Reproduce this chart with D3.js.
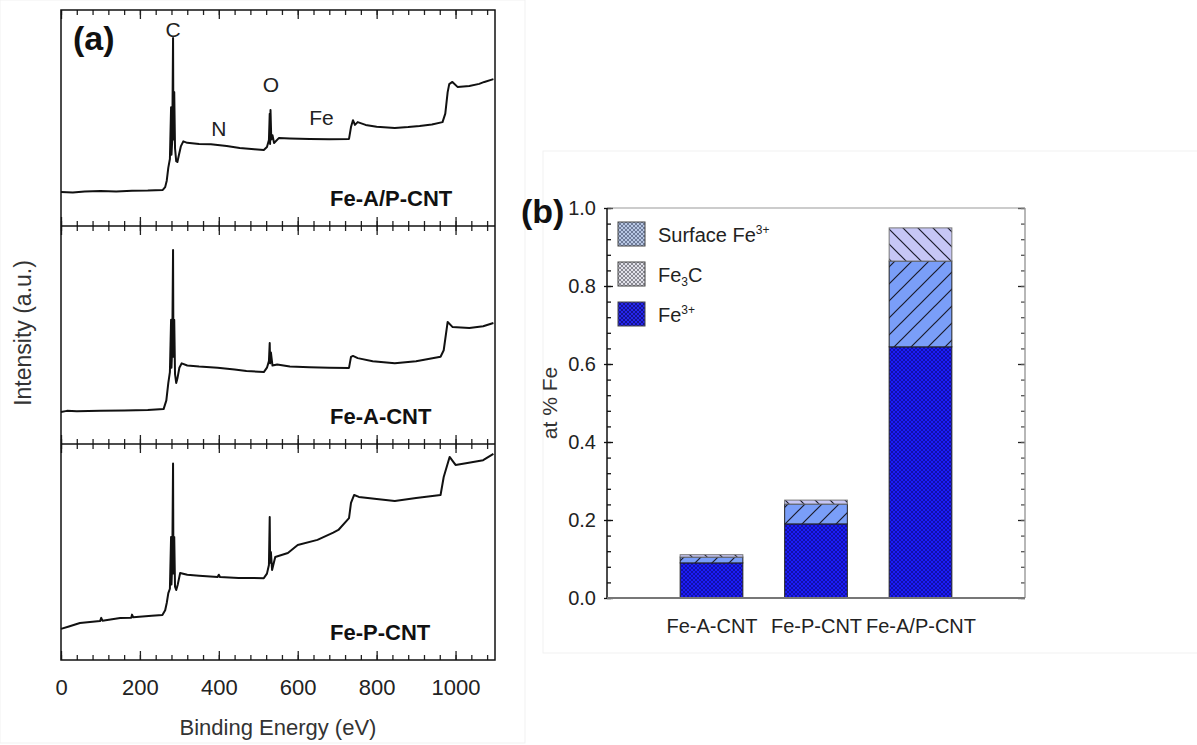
<!DOCTYPE html>
<html>
<head>
<meta charset="utf-8">
<script src="https://cdn.jsdelivr.net/npm/d3@7"></script>
<style>
  body { margin: 0; background: #fff; }
  svg { display: block; font-family: "Liberation Sans", Arial, sans-serif; }
</style>
</head>
<body>
<div id="chart"></div>
<script>
// (a) XPS survey spectra: [binding energy eV, intensity a.u. (0-100 of panel)]
const specAP = [[0,15.7],[30,15.5],[60,16],[100,16.2],[140,16],[180,16.3],[220,16.4],[258,16.7],[264,18],[268,21],[272,27],[276,31],[279,55],[280,33],[282,40],[284,87],[285,40],[287,62],[289,36],[292,30],[295,29.6],[299,33],[304,37],[310,39.2],[320,38.5],[350,38],[380,37.8],[397,37.5],[420,37],[453,36.1],[490,35.5],[514,35.2],[522,36.6],[527,39.8],[529,52],[530,38],[531,53.7],[533,40],[536,42],[540,38.4],[552,40.7],[580,40.5],[630,40.3],[680,40.2],[730,40.3],[735,45.8],[740,49],[745,46.8],[752,48.1],[772,46.8],[800,46],[846,45.4],[880,45.8],[909,46.3],[940,47],[967,48.1],[974,52],[980,62],[984,65.7],[992,66.7],[1005,64.4],[1035,64.8],[1060,65.8],[1073,66.7],[1096,68]];
const specA = [[0,14.7],[15,15.2],[40,15],[100,15.2],[160,15.4],[220,15.6],[260,16],[267,20],[272,28],[276,33],[279,57],[280,35],[282,45],[284,89],[285,40],[287,57],[289,32],[292,28],[295,30],[300,35],[306,37],[320,36],[350,35.5],[397,35],[440,34.2],[470,33.5],[514,33],[522,35],[527,38],[529,46.3],[530,37],[532,42],[536,36],[548,36.5],[580,35.5],[630,35.2],[680,35],[730,34.9],[735,40],[740,40.4],[752,39.4],[790,38],[846,37],[900,38],[962,40],[970,43],[980,56],[992,53.7],[1035,53.2],[1070,54],[1096,55.5]];
const specP = [[0,14.4],[20,15.5],[48,17.1],[99,18],[102,19.5],[105,18.2],[150,19.4],[178,19.6],[180,21],[183,19.8],[230,20.5],[257,20.8],[264,23],[268,26.4],[272,31],[276,33],[279,57],[280,35],[282,45],[284,91],[285,40],[287,57],[289,34],[292,32.4],[296,35],[302,40.3],[320,39.5],[350,39],[397,38.4],[400,39.5],[403,38.4],[450,38],[514,37.9],[522,40],[527,44],[529,66.2],[530,45],[532,50],[535,41.7],[543,47.7],[575,49.5],[600,53.2],[650,55.6],[690,59],[703,60.2],[730,65.7],[735,72.7],[743,76.4],[755,75.5],[800,74.5],[846,73.6],[900,75],[962,76.4],[970,84.7],[985,94],[1000,90.3],[1030,91.2],[1070,92.5],[1096,95.4]];
const spectra = [specAP, specA, specP];
const sampleNames = ['Fe-A/P-CNT', 'Fe-A-CNT', 'Fe-P-CNT'];
const peakLabels = [['C', 284], ['N', 400], ['O', 532], ['Fe', 660]];
const peakLevels = [87.5, 41.7, 62, 46.8];
const xMajor = [0, 200, 400, 600, 800, 1000];
const xMinor = d3.range(0, 1101, 40);

// (b) Fe species, at % Fe
const categories = ['Fe-A-CNT', 'Fe-P-CNT', 'Fe-A/P-CNT'];
const fe3Plus = [0.09, 0.19, 0.644];
const surfaceFe3 = [0.015, 0.051, 0.22];
const fe3C = [0.006, 0.01, 0.085];
const yMajor = [0, 0.2, 0.4, 0.6, 0.8, 1.0];
const yMinor = d3.range(0, 1.001, 0.04);

const W = 1197, H = 745;
const svg = d3.select('#chart').append('svg')
  .attr('width', W).attr('height', H)
  .attr('viewBox', [0, 0, W, H]);

// faint scan frames
svg.append('rect').attr('x', 0).attr('y', 0).attr('width', 525).attr('height', 743)
  .attr('fill', 'none').attr('stroke', '#f1f1f1');
svg.append('rect').attr('x', 543).attr('y', 151).attr('width', 660).attr('height', 502)
  .attr('fill', 'none').attr('stroke', '#f1f1f1');

// ---------- patterns ----------
const defs = svg.append('defs');
function hatch(id, bg, size, dir, stroke, sw) {
  const p = defs.append('pattern').attr('id', id)
    .attr('patternUnits', 'userSpaceOnUse')
    .attr('width', size).attr('height', size);
  p.append('rect').attr('width', size).attr('height', size).attr('fill', bg);
  const s = size;
  const d = dir === '/'
    ? `M-1,1 l2,-2 M0,${s} l${s},${-s} M${s - 1},${s + 1} l2,-2`
    : `M-1,${s - 1} l2,2 M0,0 l${s},${s} M${s - 1},-1 l2,2`;
  p.append('path').attr('d', d).attr('stroke', stroke).attr('stroke-width', sw);
  return p;
}
function cross(id, bg, size, stroke, sw) {
  const p = hatch(id, bg, size, '/', stroke, sw);
  const s = size;
  p.append('path').attr('d', `M-1,${s - 1} l2,2 M0,0 l${s},${s} M${s - 1},-1 l2,2`)
    .attr('stroke', stroke).attr('stroke-width', sw);
}
cross('pFe3', '#1c1cf8', 4, 'rgba(0,0,50,0.5)', 0.8);
hatch('pSurf', '#7a9ef8', 17, '/', '#1a1a2a', 1.2);
hatch('pFe3C', '#c6c6f6', 15, '\\', '#1a1a2a', 1.2);
cross('lSurf', '#b9c8e4', 4, 'rgba(30,40,70,0.6)', 0.8);
cross('lFe3C', '#e2e2ea', 4, 'rgba(40,40,50,0.6)', 0.8);
cross('lFe3', '#2626ee', 4, 'rgba(0,0,40,0.6)', 0.8);

// ---------- panel (a) ----------
const aLeft = 61, aRight = 495;
const tops = [10, 226, 444], bottoms = [226, 444, 660];
const x = d3.scaleLinear().domain([0, 1100]).range([aLeft, aRight]);
const gA = svg.append('g');

spectra.forEach((data, i) => {
  const y = d3.scaleLinear().domain([0, 100]).range([bottoms[i], tops[i]]);
  const line = d3.line().x(d => x(d[0])).y(d => y(d[1]));
  gA.append('path').datum(data)
    .attr('d', line)
    .attr('fill', 'none')
    .attr('stroke', '#111')
    .attr('stroke-width', 2)
    .attr('stroke-linejoin', 'round');
  gA.append('text')
    .attr('x', 330).attr('y', bottoms[i] - 20)
    .attr('font-size', 22).attr('font-weight', 'bold').attr('fill', '#111')
    .text(sampleNames[i]);
  if (i === 0) {
    peakLabels.forEach(([lab, ev], k) => {
      gA.append('text')
        .attr('x', x(ev)).attr('y', y(peakLevels[k]))
        .attr('text-anchor', 'middle')
        .attr('font-size', 21).attr('fill', '#222')
        .text(lab);
    });
  }
});

// x ticks at every panel edge
function tickRow(yPos, axisFn, size, values) {
  const g = gA.append('g').attr('transform', `translate(0,${yPos})`)
    .call(axisFn(x).tickValues(values).tickSize(size).tickFormat(''));
  g.select('.domain').remove();
  g.selectAll('line').attr('stroke', '#222').attr('stroke-width', 1.3);
}
[10, 226, 444].forEach(yp => {
  tickRow(yp, d3.axisTop, -9, xMajor);
  tickRow(yp, d3.axisTop, -5, xMinor);
});
[226, 444, 660].forEach(yp => {
  tickRow(yp, d3.axisBottom, -9, xMajor);
  tickRow(yp, d3.axisBottom, -5, xMinor);
});
const xLab = gA.append('g').attr('transform', 'translate(0,660)')
  .call(d3.axisBottom(x).tickValues(xMajor).tickFormat(d3.format('d')).tickSize(0).tickPadding(19));
xLab.select('.domain').remove();
xLab.selectAll('text').attr('font-size', 22).attr('fill', '#222')
  .attr('font-family', '"Liberation Sans", Arial, sans-serif');

// frame + panel separators
gA.append('rect').attr('x', aLeft).attr('y', 10)
  .attr('width', aRight - aLeft).attr('height', 650)
  .attr('fill', 'none').attr('stroke', '#111').attr('stroke-width', 1.5);
[226, 444].forEach(yp => gA.append('line')
  .attr('x1', aLeft).attr('x2', aRight).attr('y1', yp).attr('y2', yp)
  .attr('stroke', '#111').attr('stroke-width', 1.5));

gA.append('text').attr('x', 73).attr('y', 50)
  .attr('font-size', 34).attr('font-weight', 'bold').attr('fill', '#111').text('(a)');
gA.append('text')
  .attr('transform', 'translate(31,333) rotate(-90)')
  .attr('text-anchor', 'middle').attr('font-size', 23).attr('fill', '#333')
  .text('Intensity (a.u.)');
gA.append('text').attr('x', 278).attr('y', 735)
  .attr('text-anchor', 'middle').attr('font-size', 22).attr('fill', '#333')
  .text('Binding Energy (eV)');

// ---------- panel (b) ----------
const bL = 607, bR = 1025, bT = 208, bB = 598;
const gB = svg.append('g');
const xb = d3.scalePoint().domain(categories).range([bL, bR]).padding(1);
const yb = d3.scaleLinear().domain([0, 1]).range([bB, bT]);
const barW = xb.step() * 0.6;

const table = categories.map((c, i) => ({
  cat: c, fe3: fe3Plus[i], surf: surfaceFe3[i], fe3c: fe3C[i]
}));
const keys = ['fe3', 'surf', 'fe3c'];
const fills = { fe3: 'url(#pFe3)', surf: 'url(#pSurf)', fe3c: 'url(#pFe3C)' };
const stacked = d3.stack().keys(keys)(table);

stacked.forEach(layer => {
  gB.append('g').selectAll('rect')
    .data(layer)
    .enter().append('rect')
    .attr('x', d => xb(d.data.cat) - barW / 2)
    .attr('y', d => yb(d[1]))
    .attr('width', barW)
    .attr('height', d => yb(d[0]) - yb(d[1]))
    .attr('fill', fills[layer.key])
    .attr('stroke', layer.key === 'fe3c' ? '#777' : '#222')
    .attr('stroke-width', 1);
});

// y axes
function yTicks(xPos, axisFn, size, values, color) {
  const g = gB.append('g').attr('transform', `translate(${xPos},0)`)
    .call(axisFn(yb).tickValues(values).tickSize(size).tickFormat(''));
  g.select('.domain').remove();
  g.selectAll('line').attr('stroke', color).attr('stroke-width', 1.3);
}
yTicks(bL, d3.axisRight, 6, yMajor, '#111');
yTicks(bL, d3.axisLeft, 3, yMajor, '#111');
yTicks(bL, d3.axisRight, 4, yMinor, '#111');
yTicks(bR, d3.axisLeft, 7, yMajor, '#222');
yTicks(bR, d3.axisLeft, 4, yMinor, '#555');

const yLab = gB.append('g').attr('transform', `translate(${bL},0)`)
  .call(d3.axisLeft(yb).tickValues(yMajor).tickFormat(d3.format('.1f')).tickSize(0).tickPadding(11));
yLab.select('.domain').remove();
yLab.selectAll('text').attr('font-size', 20).attr('fill', '#222')
  .attr('font-family', '"Liberation Sans", Arial, sans-serif');

const xLabB = gB.append('g').attr('transform', `translate(0,${bB})`)
  .call(d3.axisBottom(xb).tickSize(0).tickPadding(21));
xLabB.select('.domain').remove();
xLabB.selectAll('text').attr('font-size', 20).attr('fill', '#222')
  .attr('font-family', '"Liberation Sans", Arial, sans-serif');

// frame lines
gB.append('line').attr('x1', bL).attr('x2', bR).attr('y1', bT).attr('y2', bT)
  .attr('stroke', '#999').attr('stroke-width', 1.2);
gB.append('line').attr('x1', bR).attr('x2', bR).attr('y1', bT).attr('y2', bB)
  .attr('stroke', '#999').attr('stroke-width', 1.4);
gB.append('line').attr('x1', bL).attr('x2', bL).attr('y1', bT).attr('y2', bB)
  .attr('stroke', '#111').attr('stroke-width', 1.5);
gB.append('line').attr('x1', bL).attr('x2', bR).attr('y1', bB).attr('y2', bB)
  .attr('stroke', '#777').attr('stroke-width', 2);

// legend
const legend = [
  { fill: 'url(#lSurf)', parts: [['Surface Fe', 0], ['3+', 1]] },
  { fill: 'url(#lFe3C)', parts: [['Fe', 0], ['3', -1], ['C', 0]] },
  { fill: 'url(#lFe3)', parts: [['Fe', 0], ['3+', 1]] }
];
legend.forEach((item, i) => {
  const yTop = 222 + i * 40;
  gB.append('rect').attr('x', 618).attr('y', yTop).attr('width', 27).attr('height', 24)
    .attr('fill', item.fill).attr('stroke', '#444').attr('stroke-width', 1);
  const t = gB.append('text').attr('x', 658).attr('y', yTop + 20)
    .attr('font-size', 20).attr('fill', '#222');
  item.parts.forEach(([s, lvl]) => {
    const ts = t.append('tspan').text(s);
    if (lvl !== 0) {
      ts.attr('font-size', 12).attr('baseline-shift', lvl > 0 ? '70%' : '-30%');
    }
  });
});

gB.append('text').attr('x', 521).attr('y', 223)
  .attr('font-size', 34).attr('font-weight', 'bold').attr('fill', '#111').text('(b)');
gB.append('text')
  .attr('transform', 'translate(557,403) rotate(-90)')
  .attr('text-anchor', 'middle').attr('font-size', 21).attr('fill', '#333')
  .text('at % Fe');
</script>
</body>
</html>
